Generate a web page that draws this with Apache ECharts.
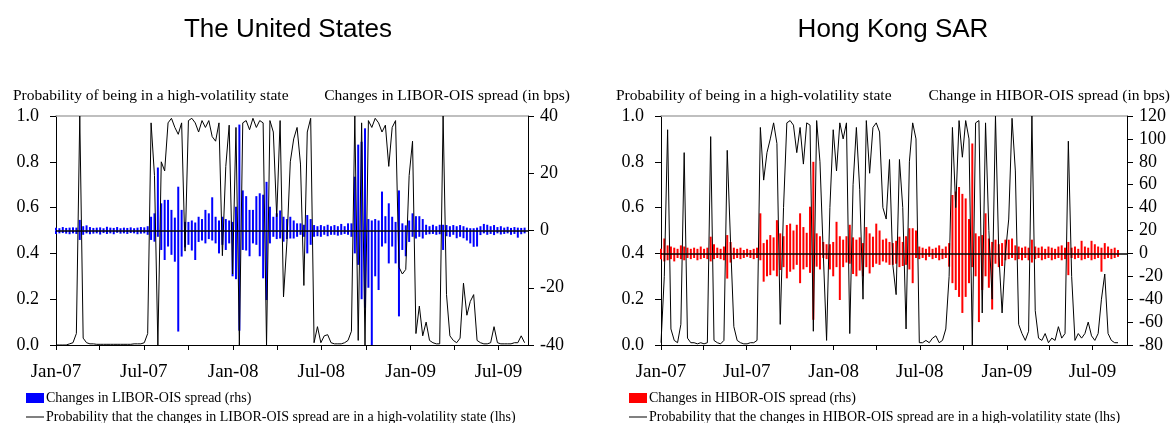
<!DOCTYPE html>
<html><head><meta charset="utf-8">
<script src="https://cdn.jsdelivr.net/npm/echarts@6/dist/echarts.min.js"></script>
<style>html,body{margin:0;padding:0;background:#fff}#c{width:1174px;height:423px}</style>
</head><body><div id="c"></div>
<script>
// ---- data (weekly readings, week i = START + 7*i days) ----
const START = '2007-01-01';
const tickDates = ['2007-01-01','2007-04-01','2007-07-01','2007-10-01','2008-01-01','2008-04-01','2008-07-01','2008-10-01','2009-01-01','2009-04-01','2009-07-01'];
const labelDates = ['2007-01-01','2007-07-01','2008-01-01','2008-07-01','2009-01-01','2009-07-01'];
const labelText = ['Jan-07','Jul-07','Jan-08','Jul-08','Jan-09','Jul-09'];

const usProb = [0,0,0,0,0.005,0.01,
0.05,1.0,0.03,
0.01,0.005,0.005,0.003,0.003,0.003,0.003,0.003,0.003,0.003,0.003,0.003,0.003,0.003,0.005,0.005,0.005,0.01,
0.05,0.97,0.74,0.0,0.8,0.76,0.97,0.99,0.95,0.92,0.97,0.41,
0.98,0.99,0.97,0.93,0.98,0.95,0.98,0.91,0.89,0.97,
0.39,0.78,0.96,0.31,0.95,0.0,0.97,0.98,0.94,0.99,
0.95,0.98,0.97,0.0,0.98,0.93,0.56,0.98,0.21,0.45,
0.80,0.90,0.95,0.79,0.26,0.93,0.99,
0.01,0.08,0.01,0.04,0.045,0.01,0.005,0.005,0.005,0.01,0.02,0.06,
1.0,0.02,0.97,0.0,0.98,0.95,0.99,0.97,0.93,0.96,
0.78,0.95,0.98,0.34,0.31,0.33,0.74,0.89,0.05,0.17,
0.04,0.10,0.02,0.01,0.005,0.005,1.0,0.22,0.04,0.02,
0.01,0.03,0.27,0.13,0.19,0.22,0.02,0.01,0.005,0.005,
0.01,0.08,0.01,0.005,0.005,0.005,0.005,0.01,0.01,0.04,0.01];

const usUp = [1.0,0.8,1.2,0.9,1.0,1.1,
1.0,3.7,1.5,1.8,1.2,0.9,1.0,1.1,0.8,1.3,
1.0,0.9,1.2,0.8,1.0,0.9,1.1,0.8,1.0,1.2,
1.1,1.5,
4.8,6.0,22,9.5,10.7,10.7,7.2,4.5,15.3,7.2,3.0,
3.0,3.5,2.8,4.8,4.0,7.2,6.0,11.6,4.8,3.5,
4.8,4.0,3.5,3.0,8.3,37,14,12,7.2,7.2,
12,13,12.5,17,8.3,4.8,6.0,7.0,4.8,4.0,
4.8,3.5,2.5,2.5,2.0,5.4,4.0,
1.9,1.5,1.9,1.5,2.0,1.5,1.9,1.5,2.3,1.5,2.5,2.5,
18.8,30,31,35.7,4.0,3.5,4.0,3.5,13.6,5.0,
9.5,4.8,3.0,14,2.5,1.8,3.5,6.0,5.0,5.0,
4.0,2.0,1.5,2.0,1.5,2.0,2.0,1.9,1.5,1.9,
1.5,1.9,1.5,1.0,0.8,0.8,1.0,1.5,2.3,2.0,
1.5,1.9,1.2,1.5,1.0,1.3,0.9,1.2,1.0,0.9,1.0];

const usDn = [-1.2,-1.0,-0.9,-1.1,-1.3,-1.0,
-1.2,-3.3,-1.5,-1.0,-1.3,-1.1,-1.0,-1.4,-0.9,-1.2,
-1.0,-1.3,-0.8,-1.1,-1.0,-1.2,-0.9,-1.0,-1.3,-1.1,
-1.0,-1.5,
-3.3,-3.9,-2.2,-6.8,-10.3,-5.6,-8.5,-10.9,-35.3,-9.1,-5.9,
-5.0,-7.0,-10.3,-4.0,-3.5,-4.5,-3.0,-3.5,-4.5,-8.0,
-5.0,-6.8,-4.5,-16,-17,-35,-6.8,-7.0,-9.0,-4.5,
-5.0,-9.0,-16.7,-24.3,-4.5,-2.2,-3.0,-2.8,-3.9,-3.0,
-2.8,-2.8,-2.2,-1.5,-2.2,-8.0,-5.0,
-2.2,-2.0,-2.2,-1.5,-2.0,-1.5,-1.5,-1.8,-1.5,-1.2,-1.5,-2.2,
-8.0,-12,-24,-27,-20,-40,-16,-20.8,-5.6,-4.5,
-11.5,-5.6,-11.5,-30,-6.8,-9.0,-4.0,-2.2,-2.8,-2.2,
-2.8,-1.5,-1.3,-1.2,-1.5,-1.3,-6.8,-2.0,-2.2,-1.5,
-2.7,-2.2,-2.7,-3.5,-4.5,-5.7,-5.6,-1.6,-1.0,-1.5,
-1.2,-1.6,-1.0,-1.4,-1.2,-1.0,-1.5,-1.2,-2.5,-1.3,-1.0];

const hkProb = [0.01,0.3,0.94,0.07,0.02,0.01,0.09,0.84,0.03,0.01,
0.01,0.005,0.01,0.005,0.01,0.91,0.02,0.01,0.005,0.02,
0.85,0.45,0.08,0.02,0.01,0.005,0.005,0.01,0.01,0.02,
0.95,0.72,0.84,0.9,0.97,0.88,0.09,0.6,0.97,0.98,
0.96,0.84,0.95,0.79,0.97,0.96,0.06,0.98,0.8,0.4,
0.02,0.6,0.94,0.76,0.97,0.9,0.97,0.05,0.7,0.95,
0.68,0.2,0.98,0.75,0.95,0.97,0.93,0.6,0.55,0.81,
0.35,0.22,0.81,0.6,0.07,0.8,0.97,0.9,0.01,0.01,
0.02,0.01,0.03,0.04,0.01,0.02,0.07,0.3,0.95,0.6,
0.98,0.82,0.98,0.9,0.0,0.97,0.98,0.14,0.97,0.5,
0.2,1.0,0.4,0.14,0.4,0.55,0.99,0.76,0.09,0.05,
0.02,0.06,1.0,0.15,0.03,0.02,0.05,0.01,0.03,0.02,
0.08,0.03,0.05,0.89,0.3,0.02,0.05,0.03,0.05,0.1,
0.04,0.02,0.05,0.2,0.31,0.05,0.02,0.01,0.01];

const hkUp = [4,13,7,6,5,4,7,6,5,4,
5,4,6,4,5,14.6,8,5,4,6,
16,10,5,4,5,3,4,3,4,5,
35,9,12,16,14,29,17.5,15,24.8,26,
20,25,35,23,18,40.8,80,17.5,15,10,
8,8,10,27.6,15,12,15,25,14,12,
14,9,23,17.5,14.6,26,20,12,13,10,
9,11,14.6,10,15,22,22,20,6,5,
4,6,4,5,7,4,6,9,51,54,
58,52,48,30,96,17.5,15,16,35,13,
10,12,8,9,12,12,13,7,6,5,
6,5,12,6,5,6,4,6,5,4,
6,7,5,10,5,6,4,11,6,5,
11,8,6,5,9,6,4,5,3];

const hkDn = [-5,-7,-6,-5,-7,-4,-5,-6,-4,-5,
-4,-6,-5,-4,-5,-7,-5,-4,-5,-6,
-22,-8,-5,-4,-5,-4,-3,-4,-5,-4,
-6,-24.7,-20,-19,-15,-20,-14.5,-12,-21.8,-16,
-14,-10,-26,-14,-12,-17,-58,-11.6,-14,-4,
-5,-14,-20,-12,-40.7,-12,-8,-9,-18,-20,
-15,-20,-12,-17.5,-12,-9,-10,-7,-8,-10,
-10,-9,-12,-11,-10,-14,-26,-4,-5,-4,
-6,-3,-5,-4,-6,-5,-4,-11.6,-26,-32,
-38,-52,-38,-26,-12,-20,-60,-32,-20,-30,
-49,-9,-12,-11,-6,-5,-4,-6,-5,-6,
-4,-6,-8,-5,-4,-6,-5,-4,-6,-5,
-4,-6,-5,-19,-4,-5,-4,-6,-5,-4,
-6,-5,-4,-16,-5,-4,-5,-4,-3];

// ---- build ----
const ts = s => { const p = s.split('-').map(Number); return Date.UTC(p[0], p[1] - 1, p[2]); };
const DAY = 86400000;
const t0 = ts(START);
const weeks = usProb.map((_, i) => t0 + i * 7 * DAY);
const pair = arr => arr.map((v, i) => [weeks[i], v]);
const labelTs = labelDates.map(ts);
const SERIF = '"Liberation Serif", "Times New Roman", serif';
const SANS = '"Liberation Sans", Arial, sans-serif';

const US_BAR = 'Changes in LIBOR-OIS spread (rhs)';
const US_LINE = 'Probability that the changes in LIBOR-OIS spread are in a high-volatility state (lhs)';
const HK_BAR = 'Changes in HIBOR-OIS spread (rhs)';
const HK_LINE = 'Probability that the changes in HIBOR-OIS spread are in a high-volatility state (lhs)';

function xBottom(g, maxDate) {
  return {
    type: 'value', gridIndex: g, min: ts('2007-01-01'), max: ts(maxDate),
    axisLine: { show: true, onZero: false, lineStyle: { color: '#000', width: 1 } },
    axisTick: { show: true, length: 5, lineStyle: { color: '#000' }, customValues: tickDates.map(ts) },
    axisLabel: { customValues: labelTs, formatter: v => labelText[labelTs.indexOf(v)] || '',
      fontFamily: SERIF, fontSize: 19, color: '#000', margin: 18 },
    splitLine: { show: false }
  };
}
function xTop(g) {
  return { type: 'value', gridIndex: g, position: 'top', min: 0, max: 1,
    axisLine: { show: true, onZero: false, lineStyle: { color: '#aaa', width: 1.5 } },
    axisTick: { show: false }, axisLabel: { show: false }, splitLine: { show: false } };
}
function yAxisDef(g, pos, min, max, interval, fmt, margin) {
  return { type: 'value', gridIndex: g, position: pos, min, max, interval,
    axisLine: { show: true, onZero: false, lineStyle: { color: '#000' } },
    axisTick: { show: true, length: 6, lineStyle: { color: '#000' } },
    axisLabel: { formatter: fmt, fontFamily: SERIF, fontSize: 18, color: '#000', margin },
    splitLine: { show: false } };
}
const zeroLine = { silent: true, symbol: ['none', 'none'], label: { show: false },
  lineStyle: { color: '#000', width: 1.5, type: 'solid' }, data: [{ yAxis: 0 }] };

function panelSeries(xi, yl, yr, barName, lineName, color, up, dn, prob) {
  return [
    { type: 'bar', name: barName, xAxisIndex: xi, yAxisIndex: yr, data: pair(up), barWidth: 2, barGap: '-100%',
      itemStyle: { color }, markLine: zeroLine, z: 2 },
    { type: 'bar', name: barName, xAxisIndex: xi, yAxisIndex: yr, data: pair(dn), barWidth: 2, barGap: '-100%',
      itemStyle: { color }, z: 2 },
    { type: 'line', name: lineName, xAxisIndex: xi, yAxisIndex: yl, data: pair(prob), symbol: 'none',
      lineStyle: { color: '#000', width: 1 }, itemStyle: { color: '#000' }, z: 4 }
  ];
}
const legendText = { fontFamily: SERIF, fontSize: 14, color: '#000' };
function legendBar(left, name) {
  return { left, top: 391, padding: 0, itemWidth: 18, itemHeight: 10, itemGap: 0, selectedMode: false,
    textStyle: Object.assign({ padding: [0, 0, 0, -3] }, legendText),
    data: [{ name, icon: 'rect' }] };
}
function legendLine(left, name) {
  return { left, top: 410, padding: 0, itemWidth: 18, itemHeight: 10, itemGap: 0, selectedMode: false,
    textStyle: Object.assign({ padding: [0, 0, 0, -3] }, legendText),
    data: [{ name, icon: 'path://M0,9 L18,9 L18,11 L0,11 Z', itemStyle: { color: '#808080' } }] };
}
const txt = (x, y, text, font, align) => ({ type: 'text', x, y,
  style: { text, font, fill: '#000', align, verticalAlign: 'middle' } });

const option = {
  animation: false,
  backgroundColor: '#fff',
  grid: [
    { left: 56, right: 646, top: 116, bottom: 78 },
    { left: 661, right: 47, top: 116, bottom: 78 }
  ],
  xAxis: [ xBottom(0, '2009-08-31'), xTop(0), xBottom(1, '2009-09-12'), xTop(1) ],
  yAxis: [
    yAxisDef(0, 'left', 0, 1, 0.2, v => v.toFixed(1), 17),
    yAxisDef(0, 'right', -40, 40, 20, v => String(v), 12),
    yAxisDef(1, 'left', 0, 1, 0.2, v => v.toFixed(1), 17),
    yAxisDef(1, 'right', -80, 120, 20, v => String(v), 12)
  ],
  legend: [ legendBar(26, US_BAR), legendLine(26, US_LINE), legendBar(629, HK_BAR), legendLine(629, HK_LINE) ],
  series: [
    ...panelSeries(0, 0, 1, US_BAR, US_LINE, '#0000FF', usUp, usDn, usProb),
    ...panelSeries(2, 2, 3, HK_BAR, HK_LINE, '#FF0000', hkUp, hkDn, hkProb)
  ],
  graphic: [
    txt(288, 30, 'The United States', '26px ' + SANS, 'center'),
    txt(893, 30, 'Hong Kong SAR', '26px ' + SANS, 'center'),
    txt(13, 96, 'Probability of being in a high-volatility state', '15.5px ' + SERIF, 'left'),
    txt(570, 96, 'Changes in LIBOR-OIS spread (in bps)', '15.5px ' + SERIF, 'right'),
    txt(616, 96, 'Probability of being in a high-volatility state', '15.5px ' + SERIF, 'left'),
    txt(1170, 96, 'Change in HIBOR-OIS spread (in bps)', '15.5px ' + SERIF, 'right')
  ]
};
const chart = echarts.init(document.getElementById('c'), null, { renderer: 'canvas' });
chart.setOption(option);
</script>
</body></html>
